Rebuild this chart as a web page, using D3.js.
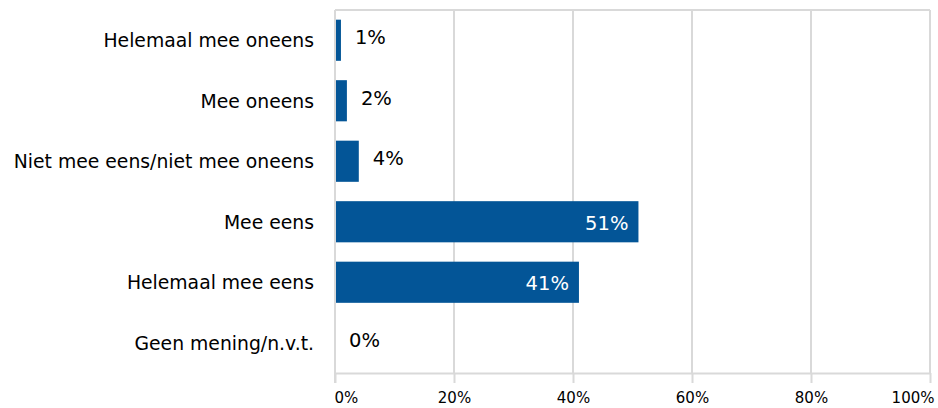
<!DOCTYPE html>
<html>
<head>
<meta charset="utf-8">
<script src="https://cdn.jsdelivr.net/npm/d3@7"></script>
<style>
  html, body { margin: 0; padding: 0; background: #ffffff; }
  svg { display: block; font-family: "DejaVu Sans", Verdana, sans-serif; }
</style>
</head>
<body>
<svg id="chart" width="938" height="408"></svg>
<script>
// Answer categories, top to bottom
const categories = [
  "Helemaal mee oneens",
  "Mee oneens",
  "Niet mee eens/niet mee oneens",
  "Mee eens",
  "Helemaal mee eens",
  "Geen mening/n.v.t."
];
// Share of respondents per category (%)
const values = [1, 2, 4, 51, 41, 0];
// X-axis ticks (%)
const tickValues = [0, 20, 40, 60, 80, 100];

const barColor = "#035597";
const gridColor = "#d9d9d9";

const svg = d3.select("#chart");
const plotLeft = 335, plotRight = 930, plotTop = 10, plotBottom = 373;

const x = d3.scaleLinear().domain([0, 100]).range([plotLeft, plotRight]);
const y = d3.scaleBand().domain(categories).range([plotTop, plotBottom])
  .paddingInner(0.32).paddingOuter(0.16);

// Vertical gridlines
svg.append("g").selectAll("line").data(tickValues).join("line")
  .attr("x1", d => x(d)).attr("x2", d => x(d))
  .attr("y1", plotTop).attr("y2", plotBottom)
  .attr("stroke", gridColor).attr("stroke-width", 2);

// Plot top border
svg.append("line")
  .attr("x1", plotLeft).attr("x2", x(100))
  .attr("y1", plotTop).attr("y2", plotTop)
  .attr("stroke", gridColor).attr("stroke-width", 2);

// Bottom axis line and ticks
const xAxis = d3.axisBottom(x).tickValues(tickValues)
  .tickSize(10).tickSizeOuter(0).tickFormat(d => d + "%");
const gx = svg.append("g").attr("transform", `translate(0,${plotBottom})`).call(xAxis);
gx.select(".domain").attr("stroke", gridColor).attr("stroke-width", 2);
gx.selectAll(".tick line").attr("stroke", gridColor).attr("stroke-width", 2);
gx.selectAll(".tick text")
  .attr("y", 19)
  .attr("dy", "0.71em")
  .attr("fill", "#000")
  .style("font-size", "15px")
  .style("font-family", "'DejaVu Sans', Verdana, sans-serif")
  .attr("text-anchor", (d, i) => i === 0 ? "start" : (i === tickValues.length - 1 ? "end" : "middle"))
  .attr("dx", (d, i) => i === 0 ? -1 : (i === tickValues.length - 1 ? 4 : 0));

// Left axis line
svg.append("line")
  .attr("x1", plotLeft).attr("x2", plotLeft)
  .attr("y1", plotTop).attr("y2", plotBottom + 10)
  .attr("stroke", gridColor).attr("stroke-width", 2);

// Category labels
svg.append("g").selectAll("text").data(categories).join("text")
  .attr("x", plotLeft - 21)
  .attr("y", d => y(d) + y.bandwidth() / 2)
  .attr("dy", "0.36em")
  .attr("text-anchor", "end")
  .attr("fill", "#000")
  .style("font-size", "18.8px")
  .text(d => d);

// Bars
const data = categories.map((c, i) => ({ cat: c, v: values[i] }));
svg.append("g").selectAll("rect").data(data).join("rect")
  .attr("x", x(0) + 1)
  .attr("y", d => y(d.cat))
  .attr("width", d => Math.max(0, x(d.v) - x(0) - 1))
  .attr("height", y.bandwidth())
  .attr("fill", barColor);

// Value labels: inside the long bars, outside the short ones
svg.append("g").selectAll("text").data(data).join("text")
  .attr("x", d => d.v > 20 ? x(d.v) - 10 : x(d.v) + 14)
  .attr("y", d => y(d.cat) + y.bandwidth() / 2 + (d.v > 20 ? 1 : -3))
  .attr("dy", "0.36em")
  .attr("text-anchor", d => d.v > 20 ? "end" : "start")
  .attr("fill", d => d.v > 20 ? "#ffffff" : "#000")
  .style("font-size", "19.5px")
  .text(d => d.v + "%");
</script>
</body>
</html>
